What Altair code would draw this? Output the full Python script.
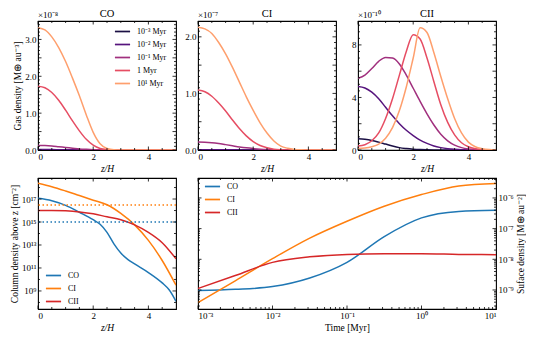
import altair as alt
import pandas as pd

FONT = "Liberation Serif"

# ---------------- data: top panels (gas density vs z/H) ----------------
z_grid = [0, 0.25, 0.5, 0.75, 1, 1.25, 1.5, 1.75, 2, 2.25, 2.5, 2.75, 3,
          3.25, 3.5, 3.75, 4, 4.25, 4.5, 4.75, 5]
time_labels = ["10⁻³ Myr", "10⁻² Myr", "10⁻¹ Myr", "1 Myr", "10¹ Myr"]
time_colors = ["#1b1044", "#56147d", "#a1307e", "#e64d63", "#fe9f6d"]

# CO, units of 1e-8 M_earth au^-3
co_e3 = [0.003, 0.003, 0.003, 0.002, 0.002, 0.001, 0.001, 0.0005, 0, 0, 0, 0, 0, 0, 0, 0, 0, 0, 0, 0, 0]
co_e2 = [0.012, 0.012, 0.011, 0.009, 0.007, 0.005, 0.003, 0.002, 0.001, 0.0005, 0, 0, 0, 0, 0, 0, 0, 0, 0, 0, 0]
co_e1 = [0.12, 0.12, 0.11, 0.09, 0.07, 0.05, 0.03, 0.018, 0.009, 0.004, 0.002, 0.001, 0, 0, 0, 0, 0, 0, 0, 0, 0]
co_1 = [1.73, 1.69, 1.56, 1.35, 1.08, 0.79, 0.52, 0.29, 0.13, 0.04, 0.01, 0.002, 0, 0, 0, 0, 0, 0, 0, 0, 0]
co_10 = [3.32, 3.26, 3.07, 2.78, 2.40, 1.95, 1.47, 0.95, 0.48, 0.17, 0.04, 0.005, 0, 0, 0, 0, 0, 0, 0, 0, 0]

# CI, units of 1e-7
ci_e3 = [0.001, 0.001, 0.001, 0.001, 0.0008, 0.0006, 0.0004, 0.0002, 0.0001, 0, 0, 0, 0, 0, 0, 0, 0, 0, 0, 0, 0]
ci_e2 = [0.006, 0.006, 0.005, 0.005, 0.004, 0.003, 0.002, 0.0015, 0.001, 0.0005, 0.0002, 0, 0, 0, 0, 0, 0, 0, 0, 0, 0]
ci_e1 = [0.14, 0.138, 0.13, 0.115, 0.095, 0.075, 0.055, 0.038, 0.025, 0.015, 0.008, 0.004, 0.002, 0.001, 0, 0, 0, 0, 0, 0, 0]
ci_1 = [1.06, 1.03, 0.95, 0.83, 0.69, 0.53, 0.38, 0.25, 0.15, 0.08, 0.04, 0.015, 0.005, 0.001, 0, 0, 0, 0, 0, 0, 0]
ci_10 = [2.17, 2.14, 2.06, 1.90, 1.70, 1.46, 1.20, 0.94, 0.70, 0.48, 0.30, 0.16, 0.07, 0.03, 0.01, 0.003, 0, 0, 0, 0, 0]

# CII, units of 1e-10
cii_e3 = [0.85, 0.81, 0.73, 0.60, 0.45, 0.30, 0.18, 0.11, 0.06, 0.03, 0.015, 0.007, 0.003, 0.001, 0, 0, 0, 0, 0, 0, 0]
cii_e2 = [4.83, 4.72, 4.40, 3.90, 3.25, 2.60, 2.00, 1.50, 1.10, 0.75, 0.50, 0.30, 0.18, 0.10, 0.05, 0.02, 0.01, 0, 0, 0, 0]
cii_e1 = [5.45, 5.70, 6.20, 6.75, 7.05, 7.00, 6.55, 5.70, 4.70, 3.70, 2.75, 1.90, 1.20, 0.70, 0.37, 0.18, 0.08, 0.03, 0.01, 0, 0]
cii_1 = [0.30, 0.40, 0.70, 1.30, 2.40, 3.90, 5.70, 7.50, 8.78, 8.45, 7.00, 5.20, 3.45, 2.10, 1.15, 0.55, 0.25, 0.10, 0.04, 0.01, 0]
cii_10 = [0.12, 0.15, 0.25, 0.45, 0.90, 1.70, 3.00, 4.80, 7.00, 9.30, 8.95, 7.40, 5.60, 3.90, 2.40, 1.30, 0.60, 0.25, 0.10, 0.03, 0]

# ---------------- data: bottom left (column density, log10 cm^-2) ----------------
species = ["CO", "CI", "CII"]
species_colors = ["#1f77b4", "#ff7f0e", "#d62728"]
zc_co = [0, 0.5, 1, 1.5, 2, 2.25, 2.5, 2.75, 3, 3.25, 3.5, 4, 4.5, 4.75, 5]
col_co = [17.06, 16.85, 16.45, 15.85, 15.2, 14.8, 14.1, 13.1, 12.3, 11.75, 11.35, 10.6, 9.7, 9.1, 8.1]
zc = [0, 0.5, 1, 1.5, 2, 2.5, 3, 3.5, 4, 4.5, 5]
col_ci = [18.37, 18.07, 17.7, 17.3, 16.9, 16.5, 15.75, 14.75, 13.4, 11.65, 9.5]
col_cii = [16.0, 16.0, 15.97, 15.88, 15.72, 15.45, 15.2, 14.75, 14.1, 13.2, 11.8]
thresh_species = ["CI", "CO"]
thresh_log = [16.48, 15.0]

# ---------------- data: bottom right (surface density vs time, log10) ----------------
log_t = [-3, -2.5, -2, -1.5, -1, -0.5, 0, 0.5, 1]
surf_co = [-9.02, -8.98, -8.89, -8.61, -8.10, -7.26, -6.65, -6.44, -6.40]
surf_ci = [-9.41, -8.70, -7.98, -7.31, -6.76, -6.27, -5.89, -5.61, -5.53]
surf_cii = [-8.95, -8.53, -8.10, -7.92, -7.84, -7.82, -7.82, -7.84, -7.85]

# ---------------- layout ----------------
W_TOP, H_TOP = 138, 129
W_BL, W_BR, H_BOT = 138, 298, 131
TL, tl = 3.5, 2.0

SUP = {"0": "⁰", "1": "¹", "2": "²", "3": "³", "4": "⁴", "5": "⁵",
       "6": "⁶", "7": "⁷", "8": "⁸", "9": "⁹", "-": "⁻"}


def pow_expr(exps):
    e = "''"
    for k in reversed(exps):
        s = "10" + "".join(SUP[c] for c in str(k))
        e = f"round(log(datum.value)/LN10) == {k} ? '{s}' : ({e})"
    return e


def tick_layers(xs, ys, xmaj, xmin, ymaj, ymin, W, H):
    layers = []
    for vals, L in [(xmaj, TL), (xmin, tl)]:
        if not vals:
            continue
        b = alt.Chart(pd.DataFrame({"tv": vals})).mark_rule(color="black", strokeWidth=0.8)
        xe = alt.X("tv:Q", scale=xs)
        layers.append(b.encode(x=xe, y=alt.value(H), y2=alt.value(H - L)))
        layers.append(b.encode(x=xe, y=alt.value(0), y2=alt.value(L)))
    for vals, L in [(ymaj, TL), (ymin, tl)]:
        if not vals:
            continue
        b = alt.Chart(pd.DataFrame({"tv": vals})).mark_rule(color="black", strokeWidth=0.8)
        ye = alt.Y("tv:Q", scale=ys)
        layers.append(b.encode(y=ye, x=alt.value(0), x2=alt.value(L)))
        layers.append(b.encode(y=ye, x=alt.value(W), x2=alt.value(W - L)))
    return layers


def stroke_legend(lx, ly):
    return alt.Legend(title=None, orient="none", legendX=lx, legendY=ly, symbolType="stroke",
                      symbolSize=230, symbolStrokeWidth=1.7, labelFontSize=8,
                      labelFont=FONT, rowPadding=0, labelOffset=6, padding=0)


def top_panel(series, title, exp_text, ymax, yvals, yminor, yfmt, ytitle, legend):
    rows = []
    for lab, vals in zip(time_labels, series):
        for z, v in zip(z_grid, vals):
            rows.append({"z": z, "v": v, "series": lab})
    df = pd.DataFrame(rows)
    xs = alt.Scale(domain=[0, 5], nice=False, zero=False)
    ys = alt.Scale(domain=[0, ymax], nice=False, zero=False)
    cscale = alt.Scale(domain=time_labels, range=time_colors)
    if legend:
        color = alt.Color("series:N", scale=cscale, legend=stroke_legend(76, 2))
    else:
        color = alt.Color("series:N", scale=cscale, legend=None)
    yaxis = alt.Axis(values=yvals, format=yfmt, title=ytitle if ytitle else " ")
    lines = alt.Chart(df).mark_line(strokeWidth=1.5, interpolate="monotone", clip=True).encode(
        x=alt.X("z:Q", scale=xs, axis=alt.Axis(values=[0, 2, 4], format="d", title="z/H",
                                                 titleFontStyle="italic")),
        y=alt.Y("v:Q", scale=ys, axis=yaxis),
        color=color,
    )
    txt = alt.Chart(pd.DataFrame({"t": [exp_text]})).mark_text(
        align="left", baseline="bottom", font=FONT, fontSize=9).encode(
        x=alt.value(0), y=alt.value(-1), text="t:N")
    ttl = alt.Chart(pd.DataFrame({"t": [title]})).mark_text(
        align="center", baseline="bottom", font=FONT, fontSize=10.5).encode(
        x=alt.value(W_TOP / 2), y=alt.value(-2), text="t:N")
    xmin = [v / 2 for v in range(1, 10) if v % 4 != 0]
    ticks = tick_layers(xs, ys, [0, 2, 4], xmin, yvals, yminor, W_TOP, H_TOP)
    return alt.layer(lines, *ticks, txt, ttl).properties(width=W_TOP, height=H_TOP)


co = top_panel([co_e3, co_e2, co_e1, co_1, co_10], "CO", "×10⁻⁸", 3.5,
               [0, 0.5, 1, 1.5, 2, 2.5, 3], [x / 10 for x in range(1, 35) if x % 5], ".1f",
               "Gas density [M⊕ au⁻³]", True)
ci = top_panel([ci_e3, ci_e2, ci_e1, ci_1, ci_10], "CI", "×10⁻⁷", 2.28,
               [0, 0.5, 1, 1.5, 2], [x / 10 for x in range(1, 23) if x % 5], ".1f", None, False)
cii = top_panel([cii_e3, cii_e2, cii_e1, cii_1, cii_10], "CII", "×10⁻¹⁰", 9.82,
                [0, 2, 4, 6, 8], [x / 2 for x in range(1, 20) if x % 4], "d", None, False)

# ---------------- bottom left ----------------
rows = []
for sp, zz, vv in [("CO", zc_co, col_co), ("CI", zc, col_ci), ("CII", zc, col_cii)]:
    for z, v in zip(zz, vv):
        rows.append({"z": z, "N": 10 ** v, "species": sp})
bl_df = pd.DataFrame(rows)
bl_xs = alt.Scale(domain=[0, 5], nice=False, zero=False)
bl_ys = alt.Scale(type="log", domain=[10 ** 7.43, 10 ** 18.83], nice=False)
sp_scale = alt.Scale(domain=species, range=species_colors)
bl_lines = alt.Chart(bl_df).mark_line(strokeWidth=1.5, interpolate="monotone", clip=True).encode(
    x=alt.X("z:Q", scale=bl_xs, axis=alt.Axis(values=[0, 2, 4], format="d", title="z/H",
                                                titleFontStyle="italic")),
    y=alt.Y("N:Q", scale=bl_ys, axis=alt.Axis(values=[10 ** k for k in [9, 11, 13, 15, 17]],
                                               labelExpr=pow_expr([9, 11, 13, 15, 17]),
                                               title="Column density above z [cm⁻²]")),
    color=alt.Color("species:N", scale=sp_scale, legend=stroke_legend(7, 89)),
)
thr = pd.DataFrame({"species": thresh_species, "N": [10 ** v for v in thresh_log]})
bl_thr = alt.Chart(thr).mark_rule(strokeWidth=1.5, strokeDash=[1.5, 2.5]).encode(
    y=alt.Y("N:Q", scale=bl_ys),
    color=alt.Color("species:N", scale=sp_scale, legend=None),
)
bl_ticks = tick_layers(bl_xs, bl_ys, [0, 2, 4], [v / 2 for v in range(1, 10) if v % 4 != 0],
                       [10 ** k for k in [9, 11, 13, 15, 17]], [10 ** k for k in [8, 10, 12, 14, 16, 18]],
                       W_BL, H_BOT)
bl = alt.layer(bl_lines, bl_thr, *bl_ticks).properties(width=W_BL, height=H_BOT)

# ---------------- bottom right ----------------
rows = []
for sp, vv in [("CO", surf_co), ("CI", surf_ci), ("CII", surf_cii)]:
    for t, v in zip(log_t, vv):
        rows.append({"t": 10 ** t, "S": 10 ** v, "species": sp})
br_df = pd.DataFrame(rows)
br_xs = alt.Scale(type="log", domain=[1e-3, 10], nice=False)
br_ys = alt.Scale(type="log", domain=[10 ** -9.62, 10 ** -5.35], nice=False)
br_lines = alt.Chart(br_df).mark_line(strokeWidth=1.5, interpolate="monotone", clip=True).encode(
    x=alt.X("t:Q", scale=br_xs, axis=alt.Axis(values=[10 ** k for k in [-3, -2, -1, 0, 1]],
                                                labelExpr=pow_expr([-3, -2, -1, 0, 1]),
                                                title="Time [Myr]")),
    y=alt.Y("S:Q", scale=br_ys, axis=alt.Axis(orient="right", values=[10 ** k for k in [-9, -8, -7, -6]],
                                               labelExpr=pow_expr([-9, -8, -7, -6]),
                                               title="Suface density [M⊕ au⁻²]", titleAngle=270,
                                               titleBaseline="top")),
    color=alt.Color("species:N", scale=sp_scale, legend=stroke_legend(6, 0)),
)
x_minor = [m * 10 ** k for k in [-3, -2, -1, 0] for m in range(2, 10)]
y_minor = [m * 10 ** k for k in [-10, -9, -8, -7, -6] for m in range(2, 10)
           if 10 ** -9.62 < m * 10 ** k < 10 ** -5.35]
br_ticks = tick_layers(br_xs, br_ys, [10 ** k for k in [-3, -2, -1, 0, 1]], x_minor,
                       [10 ** k for k in [-9, -8, -7, -6]], y_minor, W_BR, H_BOT)
br = alt.layer(br_lines, *br_ticks).properties(width=W_BR, height=H_BOT)

top = alt.hconcat(co, ci, cii, spacing=22, bounds="flush").resolve_scale(color="independent")
bottom = alt.hconcat(bl, br, spacing=22, bounds="flush").resolve_scale(color="independent")
chart = alt.vconcat(top, bottom, spacing=3).resolve_scale(
    color="independent").properties(padding={"left": 0, "top": 0, "right": 0, "bottom": 0}).configure_view(
    stroke="black", strokeWidth=1.1).configure_axis(
    labelFont=FONT, titleFont=FONT, labelFontSize=9, titleFontSize=9.5, labelColor="black",
    titleColor="black", ticks=False, domain=False, grid=False, labelPadding=2, titlePadding=2,
    titleFontWeight="normal").configure_legend(labelFont=FONT, labelColor="black")

chart.save("out.html", embed_options={"renderer": "svg", "actions": False})
